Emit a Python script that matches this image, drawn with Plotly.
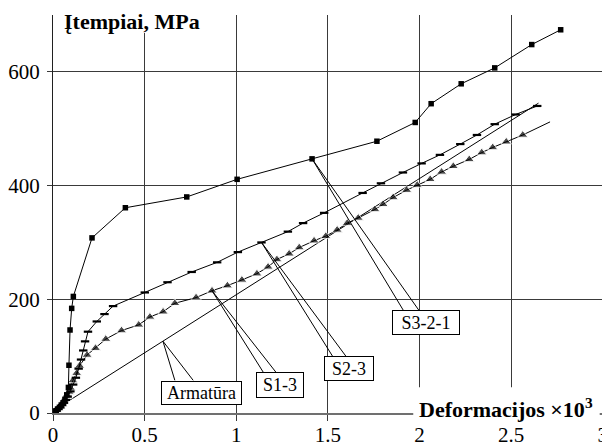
import plotly.graph_objects as go
import numpy as np

# ---------------- data ----------------
# Reinforcement (Armatūra) reference line
arm_x = [0, 0.05, 2.65]
arm_y = [0, 14, 545]

# S1-3 (triangles)
s13_x = [0, 0.01, 0.02, 0.03, 0.04, 0.05, 0.06, 0.07, 0.08, 0.088, 0.095, 0.108, 0.129,
         0.145, 0.186, 0.232, 0.288, 0.374, 0.468, 0.529, 0.601, 0.665, 0.781, 0.868,
         0.952, 1.031, 1.113, 1.174, 1.222, 1.289, 1.344, 1.425, 1.489, 1.551, 1.606,
         1.666, 1.757, 1.802, 1.857, 1.930, 1.988, 2.059, 2.121, 2.185, 2.272, 2.340,
         2.400, 2.474, 2.564, 2.713]
s13_y = [0, 2, 5, 8, 11, 15, 19, 24, 30, 37, 44, 57, 70,
         83, 102, 114, 130, 145, 155, 169, 178, 193, 203, 215,
         224, 234, 245, 257, 270, 280, 291, 303, 311, 322, 334,
         343, 358, 367, 379, 392, 401, 411, 424, 434, 446, 458,
         467, 477, 489, 512]

# S2-3 (dash markers)
s23_x = [0, 0.01, 0.02, 0.03, 0.04, 0.05, 0.06, 0.07, 0.08, 0.095, 0.11, 0.125, 0.14,
         0.153, 0.165, 0.175, 0.191, 0.239, 0.281, 0.328, 0.501, 0.625, 0.757, 0.896,
         1.009, 1.138, 1.282, 1.365, 1.480, 1.690, 1.790, 1.910, 2.012, 2.112, 2.223,
         2.314, 2.411, 2.525, 2.643]
s23_y = [0, 2, 4, 7, 10, 14, 18, 23, 29, 38, 50, 62, 78,
         94, 110, 126, 143, 161, 174, 188, 212, 230, 248, 265,
         283, 300, 319, 334, 352, 387, 404, 423, 439, 454, 473,
         489, 508, 525, 540]

# S3-2-1 (squares)
s321_x = [0, 0.008, 0.016, 0.025, 0.035, 0.045, 0.055, 0.065, 0.075, 0.084, 0.087,
          0.093, 0.102, 0.111, 0.213, 0.395, 0.730, 1.005, 1.414, 1.768, 1.977,
          2.064, 2.228, 2.411, 2.613, 2.771]
s321_y = [0, 2, 4, 7, 10, 14, 18, 24, 32, 45, 84,
          146, 184, 205, 308, 361, 380, 411, 447, 478, 511,
          544, 579, 607, 648, 674]

x_ticks = [0, 0.5, 1, 1.5, 2, 2.5, 3]
x_tick_text = ["0", "0.5", "1", "1.5", "2", "2.5", "3"]
y_ticks = [0, 200, 400, 600]
y_tick_text = ["0", "200", "400", "600"]

y_title = "Įtempiai, MPa"
x_title = "Deformacijos ×10<sup>3</sup>"

# ---------------- styling / layout ----------------
FONT = "Liberation Serif"
GRID = "#3a3a3a"

fig = go.Figure()
fig.add_trace(go.Scatter(x=arm_x, y=arm_y, mode="lines",
                         line=dict(color="black", width=1), name="Armatūra"))
s13_sizes = [9] * (len(s13_x) - 1) + [0]
fig.add_trace(go.Scatter(x=s13_x, y=s13_y, mode="lines+markers",
                         line=dict(color="black", width=1),
                         marker=dict(symbol="triangle-up", size=s13_sizes, color="black"),
                         name="S1-3"))
fig.add_trace(go.Scatter(x=s23_x, y=s23_y, mode="lines+markers",
                         line=dict(color="black", width=1),
                         marker=dict(symbol="line-ew", size=6, color="black",
                                     line=dict(width=2.2, color="black")),
                         name="S2-3"))
fig.add_trace(go.Scatter(x=s321_x, y=s321_y, mode="lines+markers",
                         line=dict(color="black", width=1),
                         marker=dict(symbol="square", size=5.5, color="black"),
                         name="S3-2-1"))

arm_target_x = 0.6
arm_target_y = float(np.interp(arm_target_x, arm_x, arm_y))
callouts = [
    # text, target (x,y), box centre (x,y), box w,h (px), wedge foot xs, box-top y
    ("Armatūra", (arm_target_x, arm_target_y), (0.812, 35.2), 79, 22, (0.665, 0.765), 57.5),
    ("S1-3", (s13_x[23], s13_y[23]), (1.238, 50.1), 46, 24, (1.147, 1.216), 72.1),
    ("S2-3", (s23_x[25], s23_y[25]), (1.618, 78.8), 48, 23, (1.526, 1.599), 99.8),
    ("S3-2-1", (s321_x[18], s321_y[18]), (2.034, 159.6), 66, 23, (1.912, 1.997), 180.7),
]

shapes = []
annotations = []
for text, (tx, ty), (bx, by), bw, bh, (f1, f2), ytop in callouts:
    for fx in (f1, f2):
        shapes.append(dict(type="line", xref="x", yref="y", x0=tx, y0=ty, x1=fx, y1=ytop,
                           line=dict(color="black", width=1), layer="above"))
    annotations.append(dict(x=bx, y=by, xref="x", yref="y", text=text, showarrow=False,
                            font=dict(family=FONT, size=18, color="black"),
                            bgcolor="white", bordercolor="black", borderwidth=1,
                            borderpad=0, width=bw, height=bh, align="center",
                            valign="middle"))

# right-hand frame line at x = 3 (gridline at the range end)
shapes.append(dict(type="line", xref="x", yref="paper", x0=x_ticks[-1], x1=x_ticks[-1],
                   y0=-0.015, y1=1, line=dict(color=GRID, width=1), layer="below"))
# white covers behind the axis titles (gridlines are interrupted in the original)
shapes.append(dict(type="rect", xref="paper", yref="paper", x0=0.01, x1=0.27,
                   y0=0.955, y1=1.01, fillcolor="white", line=dict(width=0), layer="above"))
shapes.append(dict(type="rect", xref="paper", yref="paper", x0=0.655, x1=0.994,
                   y0=-0.02, y1=0.065, fillcolor="white", line=dict(width=0), layer="above"))

annotations.append(dict(x=0.0155, y=0.983, xref="paper", yref="paper", text=f"<b>{y_title}</b>",
                        showarrow=False, xanchor="left", yanchor="middle",
                        font=dict(family=FONT, size=22, color="black")))
annotations.append(dict(x=0.661, y=0.012, xref="paper", yref="paper", text=f"<b>{x_title}</b>",
                        showarrow=False, xanchor="left", yanchor="middle",
                        font=dict(family=FONT, size=22, color="black")))

# the page body adds an 8px offset, so the figure is 8px smaller and margins compensate
fig.update_layout(
    width=602, height=436,
    margin=dict(l=45, r=7, t=7, b=31, autoexpand=False),
    paper_bgcolor="white", plot_bgcolor="white",
    showlegend=False,
    shapes=shapes, annotations=annotations,
)
fig.update_xaxes(range=[0, 3.002], tickvals=x_ticks, ticktext=x_tick_text, automargin=False,
                 showgrid=True, gridcolor=GRID, gridwidth=1, zeroline=False,
                 showline=True, linecolor="#707070", linewidth=2,
                 ticks="outside", ticklen=6, tickcolor=GRID, tickwidth=1,
                 ticklabelstandoff=-4,
                 tickfont=dict(family=FONT, size=21, color="black"))
fig.update_yaxes(range=[0, 700], tickvals=y_ticks, ticktext=y_tick_text, automargin=False,
                 showgrid=True, gridcolor=GRID, gridwidth=1, zeroline=False,
                 showline=True, linecolor="#202020", linewidth=1,
                 ticks="outside", ticklen=5, tickcolor=GRID, tickwidth=1,
                 ticklabelstandoff=3,
                 tickfont=dict(family=FONT, size=21, color="black"))

fig.write_html("out.html")
